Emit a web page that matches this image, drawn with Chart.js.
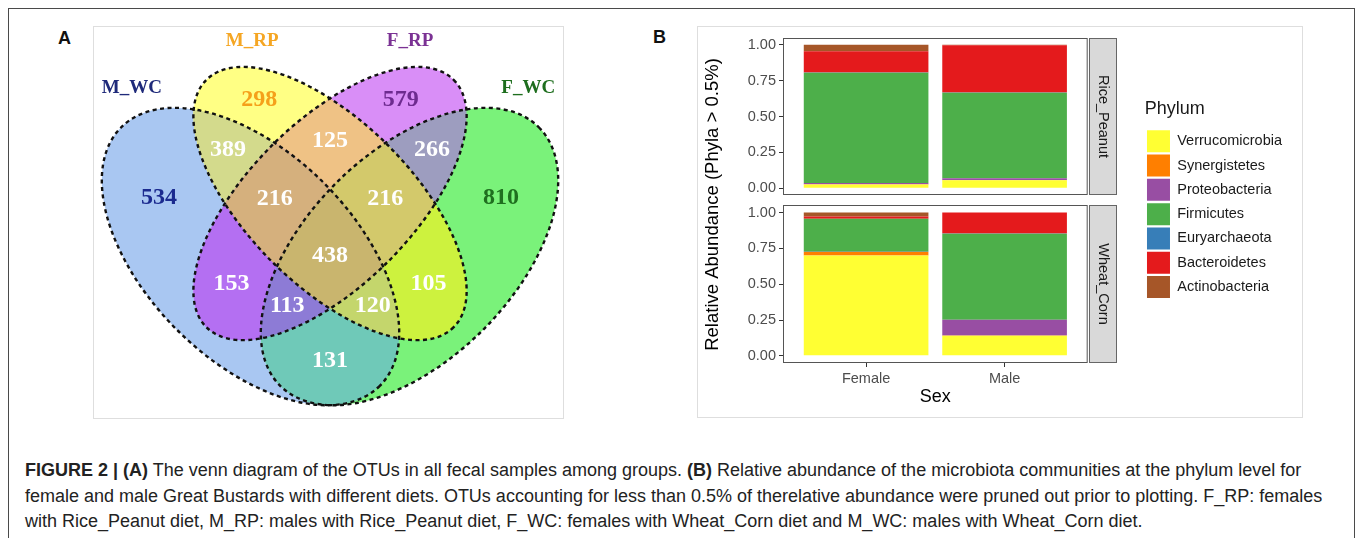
<!DOCTYPE html>
<html>
<head>
<meta charset="utf-8">
<script src="https://cdn.jsdelivr.net/npm/chart.js@4.4.1/dist/chart.umd.min.js"></script>
<style>
  html, body { margin: 0; padding: 0; background: #fff; width: 1357px; height: 538px; overflow: hidden;
    font-family: "Liberation Sans", Arial, sans-serif; }
  .abs { position: absolute; }
  #frame { left: 8px; top: 8px; width: 1347px; height: 600px; border: 1px solid #4a4a4a; border-bottom: none; box-sizing: border-box; }
  .box { border: 1px solid #dedede; box-sizing: border-box; }
  .letter { font-weight: bold; font-size: 18px; line-height: 18px; color: #111; }
  #caption { left: 25px; top: 458px; font-size: 18px; line-height: 25.5px; color: #222; white-space: nowrap; }
</style>
</head>
<body>
<div id="frame" class="abs"></div>
<div class="abs box" style="left:93px;top:26px;width:471px;height:393px;"></div>
<div class="abs box" style="left:697px;top:26px;width:606px;height:392px;"></div>
<div class="abs letter" style="left:58px;top:29px;">A</div>
<div class="abs letter" style="left:653px;top:28px;">B</div>
<canvas id="venn" class="abs" width="470" height="392" style="left:93px;top:26px;"></canvas>
<canvas id="bars" class="abs" width="605" height="391" style="left:697px;top:26px;"></canvas>
<div id="caption" class="abs"><b>FIGURE 2 | (A)</b> The venn diagram of the OTUs in all fecal samples among groups. <b>(B)</b> Relative abundance of the microbiota communities at the phylum level for<br>female and male Great Bustards with different diets. OTUs accounting for less than 0.5% of therelative abundance were pruned out prior to plotting. F_RP: females<br>with Rice_Peanut diet, M_RP: males with Rice_Peanut diet, F_WC: females with Wheat_Corn diet and M_WC: males with Wheat_Corn diet.</div>

<script>
// ---- Panel A data: OTU counts per Venn region
const vennSets = ['M_WC', 'M_RP', 'F_RP', 'F_WC'];
const vennRegions = [
  ['M_WC'], ['M_RP'], ['F_RP'], ['F_WC'],
  ['M_WC', 'M_RP'], ['M_RP', 'F_RP'], ['F_RP', 'F_WC'], ['M_WC', 'F_RP'], ['M_RP', 'F_WC'], ['M_WC', 'F_WC'],
  ['M_WC', 'M_RP', 'F_RP'], ['M_RP', 'F_RP', 'F_WC'], ['M_WC', 'F_RP', 'F_WC'], ['M_WC', 'M_RP', 'F_WC'],
  ['M_WC', 'M_RP', 'F_RP', 'F_WC'],
];
const vennCounts = [534, 298, 579, 810, 389, 125, 266, 153, 105, 131, 216, 216, 113, 120, 438];

// ---- Panel B data: relative abundance, phyla listed bottom of stack first
const phyla = ['Verrucomicrobia', 'Synergistetes', 'Proteobacteria', 'Firmicutes', 'Euryarchaeota', 'Bacteroidetes', 'Actinobacteria'];
const sexLabels = ['Female', 'Male'];
const diets = ['Rice_Peanut', 'Wheat_Corn'];
const ricePeanutFemale = [0.025, 0.003, 0.008, 0.770, 0.002, 0.148, 0.044];
const ricePeanutMale   = [0.055, 0.002, 0.012, 0.597, 0.002, 0.330, 0.002];
const wheatCornFemale  = [0.700, 0.024, 0.003, 0.229, 0.001, 0.015, 0.028];
const wheatCornMale    = [0.140, 0.002, 0.110, 0.600, 0.002, 0.146, 0.000];
const yTicks = [0, 0.25, 0.5, 0.75, 1];

// ---- styles
const phylumColors = ['#ffff33', '#ff7f00', '#984ea3', '#4daf4a', '#377eb8', '#e41a1c', '#a65628'];
const vennRegionColors = ['#a9c7f2', '#ffff84', '#d98ef7', '#7af27a', '#d3da8c', '#efc285', '#9d9dbf',
  '#b46ff2', '#cdf23e', '#6fc9b8', '#d5b07d', '#d3c96b', '#8d7bd6', '#c4d66c', '#c9b56e'];
const vennCountColors = ['#1b2a8f', '#f5a01a', '#6d2b8f', '#1f6f1f'];
const vennSetColors = { M_WC: '#1f2a7a', M_RP: '#f5a623', F_RP: '#7b3294', F_WC: '#1e6e1e' };

// ellipse layout in unit space (y up), quad-venn arrangement; label = where the set name sits
const vennShapes = {
  M_WC: { cx: 0.35, cy: 0.47, a: 0.345, b: 0.196, angle: -45, label: [0.126, 0.788] },
  M_RP: { cx: 0.50, cy: 0.57, a: 0.33, b: 0.155, angle: -45, label: [0.353, 0.877] },
  F_RP: { cx: 0.50, cy: 0.57, a: 0.33, b: 0.155, angle: 45, label: [0.651, 0.877] },
  F_WC: { cx: 0.65, cy: 0.47, a: 0.345, b: 0.196, angle: 45, label: [0.874, 0.788] },
};

function inEllipse(e, x, y) {
  const t = e.angle * Math.PI / 180;
  const dx = x - e.cx, dy = y - e.cy;
  const u = dx * Math.cos(t) + dy * Math.sin(t);
  const v = -dx * Math.sin(t) + dy * Math.cos(t);
  return (u * u) / (e.a * e.a) + (v * v) / (e.b * e.b) <= 1;
}

// label anchor for each region: centroid weighted towards the thick part of the region
function regionAnchors() {
  const step = 0.004, x0 = 0.04, y0 = 0.15;
  const nx = 231, ny = 191;
  const masks = vennRegions.map(r => r.reduce((m, s) => m | (1 << vennSets.indexOf(s)), 0));
  const key = new Int16Array(nx * ny);
  for (let j = 0; j < ny; j++) {
    for (let i = 0; i < nx; i++) {
      let m = 0;
      vennSets.forEach((s, k) => { if (inEllipse(vennShapes[s], x0 + i * step, y0 + j * step)) m |= 1 << k; });
      key[j * nx + i] = masks.indexOf(m);
    }
  }
  const d = new Float32Array(nx * ny);
  for (let j = 0; j < ny; j++) {
    for (let i = 0; i < nx; i++) {
      const k = key[j * nx + i];
      const edge = i === 0 || j === 0 || i === nx - 1 || j === ny - 1 ||
        key[j * nx + i - 1] !== k || key[j * nx + i + 1] !== k || key[(j - 1) * nx + i] !== k || key[(j + 1) * nx + i] !== k;
      d[j * nx + i] = (k < 0 || edge) ? 0 : 1e9;
    }
  }
  const r2 = Math.SQRT2;
  for (let j = 1; j < ny - 1; j++) {
    for (let i = 1; i < nx - 1; i++) {
      const p = j * nx + i;
      d[p] = Math.min(d[p], d[p - 1] + 1, d[p - nx] + 1, d[p - nx - 1] + r2, d[p - nx + 1] + r2);
    }
  }
  for (let j = ny - 2; j > 0; j--) {
    for (let i = nx - 2; i > 0; i--) {
      const p = j * nx + i;
      d[p] = Math.min(d[p], d[p + 1] + 1, d[p + nx] + 1, d[p + nx + 1] + r2, d[p + nx - 1] + r2);
    }
  }
  const sw = vennRegions.map(() => 0), sx = sw.slice(), sy = sw.slice();
  for (let j = 0; j < ny; j++) {
    for (let i = 0; i < nx; i++) {
      const k = key[j * nx + i];
      if (k < 0) continue;
      const w = Math.pow(d[j * nx + i], 4);
      sw[k] += w; sx[k] += w * (x0 + i * step); sy[k] += w * (y0 + j * step);
    }
  }
  return vennCounts.map((c, k) => ({ x: sx[k] / sw[k], y: sy[k] / sw[k] }));
}

function ellipsePath(ctx, xs, ys, e) {
  const px = xs.getPixelForValue(e.cx), py = ys.getPixelForValue(e.cy);
  const rx = Math.abs(xs.getPixelForValue(e.cx + e.a) - px);
  const ry = Math.abs(ys.getPixelForValue(e.cy + e.b) - py);
  ctx.beginPath();
  ctx.ellipse(px, py, rx, ry, -e.angle * Math.PI / 180, 0, 2 * Math.PI);
}

const vennPlugin = {
  id: 'vennShapes',
  beforeDatasetsDraw(chart) {
    const { ctx, chartArea, scales: { x, y } } = chart;
    // paint from single sets up to the 4-way overlap, each clipped to its sets
    const order = vennRegions.map((r, i) => i).sort((a, b) => vennRegions[a].length - vennRegions[b].length);
    order.forEach(i => {
      ctx.save();
      vennRegions[i].forEach(s => { ellipsePath(ctx, x, y, vennShapes[s]); ctx.clip(); });
      ctx.fillStyle = vennRegionColors[i];
      ctx.fillRect(chartArea.left, chartArea.top, chartArea.width, chartArea.height);
      ctx.restore();
    });
    ctx.save();
    ctx.strokeStyle = '#111';
    ctx.lineWidth = 2.4;
    ctx.setLineDash([4, 3.5]);
    vennSets.forEach(s => { ellipsePath(ctx, x, y, vennShapes[s]); ctx.stroke(); });
    ctx.restore();
  },
  afterDatasetsDraw(chart) {
    const { ctx, scales: { x, y } } = chart;
    ctx.save();
    ctx.textAlign = 'center';
    ctx.textBaseline = 'middle';
    ctx.font = 'bold 24px "Liberation Serif", serif';
    chart.getDatasetMeta(0).data.forEach((pt, i) => {
      ctx.fillStyle = vennCountColors[i] || '#ffffff';
      ctx.fillText(String(vennCounts[i]), pt.x, pt.y);
    });
    ctx.font = 'bold 19px "Liberation Serif", serif';
    vennSets.forEach(s => {
      const e = vennShapes[s];
      ctx.fillStyle = vennSetColors[s];
      ctx.fillText(s, x.getPixelForValue(e.label[0]), y.getPixelForValue(e.label[1]));
    });
    ctx.restore();
  },
};

new Chart(document.getElementById('venn'), {
  type: 'scatter',
  data: { datasets: [{ label: 'OTUs', data: regionAnchors(), pointRadius: 0, pointHoverRadius: 0 }] },
  options: {
    responsive: false,
    animation: false,
    events: [],
    layout: { padding: 0 },
    scales: {
      x: { type: 'linear', display: false, min: 0.0528, max: 0.9396 },
      y: { type: 'linear', display: false, min: 0.1653, max: 0.905 },
    },
    plugins: { legend: { display: false }, tooltip: { enabled: false } },
  },
  plugins: [vennPlugin],
});

// ---- Panel B
const facetData = [
  { axis: 'yTop', female: ricePeanutFemale, male: ricePeanutMale },
  { axis: 'yBot', female: wheatCornFemale, male: wheatCornMale },
];
const barDatasets = [];
facetData.forEach(f => {
  phyla.forEach((p, k) => {
    barDatasets.push({
      label: p,
      data: [{ x: 1, y: f.female[k] }, { x: 2, y: f.male[k] }],
      backgroundColor: phylumColors[k],
      borderColor: phylumColors[k],
      borderWidth: 0,
      yAxisID: f.axis,
    });
  });
});

const axisFont = { family: '"Liberation Sans", Arial, sans-serif', size: 14.5 };
function facetAxis(min, max) {
  return {
    type: 'linear', position: 'left', stack: 'facet', stackWeight: 1, stacked: true,
    min: min, max: max,
    afterBuildTicks: s => { s.ticks = yTicks.map(v => ({ value: v })); },
    afterFit: s => { s.width = 86; },
    ticks: { callback: v => Number(v).toFixed(2), color: '#4d4d4d', font: axisFont, padding: 3 },
    grid: { drawOnChartArea: false, drawTicks: true, tickLength: 4, color: '#333' },
    border: { display: false },
  };
}

const facetPlugin = {
  id: 'facetDecor',
  afterDatasetsDraw(chart) {
    const { ctx, chartArea, scales } = chart;
    let top0 = null, bot1 = null;
    ctx.save();
    ['yTop', 'yBot'].forEach((id, i) => {
      const s = scales[id];
      const top = Math.round(s.getPixelForValue(1.05)), bottom = Math.round(s.getPixelForValue(-0.05));
      if (i === 0) top0 = top; else bot1 = bottom;
      ctx.strokeStyle = '#555';
      ctx.lineWidth = 1;
      ctx.strokeRect(chartArea.left + 0.5, top + 0.5, chartArea.width - 1, bottom - top - 1);
      const sx = Math.round(chartArea.right) + 1, sw = 28;
      ctx.fillStyle = '#d9d9d9';
      ctx.fillRect(sx, top, sw, bottom - top);
      ctx.strokeStyle = '#666';
      ctx.strokeRect(sx + 0.5, top + 0.5, sw - 1, bottom - top - 1);
      ctx.save();
      ctx.translate(sx + sw / 2, (top + bottom) / 2);
      ctx.rotate(Math.PI / 2);
      ctx.fillStyle = '#1a1a1a';
      ctx.font = '14.5px "Liberation Sans", Arial, sans-serif';
      ctx.textAlign = 'center';
      ctx.textBaseline = 'middle';
      ctx.fillText(diets[i], 0, 0);
      ctx.restore();
    });
    ctx.translate(16, (top0 + bot1) / 2 + 4);
    ctx.rotate(-Math.PI / 2);
    ctx.fillStyle = '#000';
    ctx.font = '18.5px "Liberation Sans", Arial, sans-serif';
    ctx.textAlign = 'center';
    ctx.textBaseline = 'middle';
    ctx.fillText('Relative Abundance (Phyla > 0.5%)', 0, 0);
    ctx.restore();
  },
};

new Chart(document.getElementById('bars'), {
  type: 'bar',
  data: { datasets: barDatasets },
  options: {
    responsive: false,
    animation: false,
    events: [],
    layout: { padding: { top: 11, left: 0, right: 10, bottom: 0 } },
    datasets: { bar: { barPercentage: 0.9, categoryPercentage: 1.0 } },
    scales: {
      x: {
        type: 'linear', position: 'bottom', stacked: true, offset: false, min: 0.4, max: 2.6,
        afterBuildTicks: s => { s.ticks = sexLabels.map((l, i) => ({ value: i + 1 })); },
        afterFit: s => { s.height = 54; },
        ticks: { callback: v => sexLabels[Math.round(v) - 1], color: '#4d4d4d', font: axisFont, padding: 3, maxRotation: 0, autoSkip: false },
        grid: { offset: false, drawOnChartArea: false, drawTicks: true, tickLength: 4, color: '#333' },
        border: { display: false },
        title: { display: true, text: 'Sex', color: '#000', font: { family: '"Liberation Sans", Arial, sans-serif', size: 18 }, padding: { top: 1, bottom: 9 } },
      },
      yBot: facetAxis(-0.05, 1.085),
      yTop: facetAxis(-0.085, 1.05),
      yStrip: {
        type: 'linear', position: 'right', display: true,
        ticks: { display: false }, grid: { display: false }, border: { display: false },
        afterFit: s => { s.width = 57; },
      },
    },
    plugins: {
      tooltip: { enabled: false },
      legend: {
        display: true, position: 'right', align: 'center', maxWidth: 220, fullSize: false,
        title: { display: true, text: 'Phylum', position: 'start', color: '#1a1a1a',
          font: { family: '"Liberation Sans", Arial, sans-serif', size: 18 }, padding: { top: 0, bottom: 6 } },
        labels: {
          filter: item => item.datasetIndex < phyla.length,
          boxWidth: 23, boxHeight: 22, padding: 2.3, color: '#1a1a1a',
          font: { family: '"Liberation Sans", Arial, sans-serif', size: 14.5 },
        },
      },
    },
  },
  plugins: [facetPlugin],
});
</script>
</body>
</html>
